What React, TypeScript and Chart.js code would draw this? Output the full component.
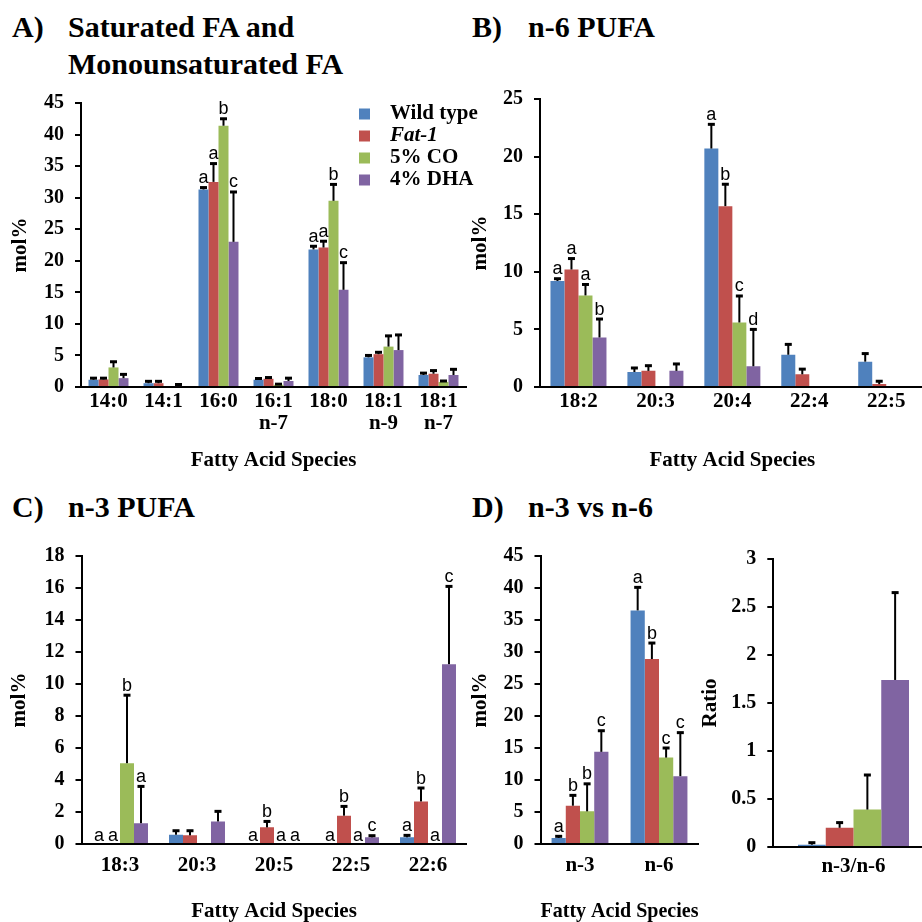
import React, { useEffect, useRef } from 'react';
import { Chart, registerables } from 'chart.js';

Chart.register(...registerables);

const SERIES = ['Wild type', 'Fat-1', '5% CO', '4% DHA'];
const COLORS = ['#4F81BD', '#C0504D', '#9BBB59', '#8064A2'];

// ---------- Panel A: Saturated FA and Monounsaturated FA ----------
const catsA: (string | string[])[] = ['14:0', '14:1', '16:0', ['16:1', 'n-7'], '18:0', ['18:1', 'n-9'], ['18:1', 'n-7']];
const wtA = [1.15, 0.6, 31.3, 1.15, 21.8, 4.7, 1.9];
const fatA = [1.2, 0.6, 32.5, 1.3, 22.1, 5.2, 2.1];
const coA = [3.1, 0, 41.4, 0.35, 29.5, 6.4, 0.8];
const dhaA = [1.4, 0.15, 23.0, 0.95, 15.4, 5.85, 1.9];
const wtAErr = [0.25, 0.3, 0.3, 0.2, 0.5, 0.3, 0.3];
const fatAErr = [0.2, 0.3, 2.9, 0.2, 1.0, 0.3, 0.5];
const coAErr = [0.9, 0, 1.1, 0.1, 2.6, 1.7, 0.15];
const dhaAErr = [0.6, 0.25, 7.9, 0.45, 4.3, 2.4, 0.9];
const wtALet = ['', '', 'a', '', 'a', '', ''];
const fatALet = ['', '', 'a', '', 'a', '', ''];
const coALet = ['', '', 'b', '', 'b', '', ''];
const dhaALet = ['', '', 'c', '', 'c', '', ''];

// ---------- Panel B: n-6 PUFA ----------
const catsB = ['18:2', '20:3', '20:4', '22:4', '22:5'];
const wtB = [9.2, 1.3, 20.7, 2.8, 2.2];
const fatB = [10.2, 1.4, 15.7, 1.1, 0.25];
const coB = [7.95, 0, 5.6, 0, 0];
const dhaB = [4.3, 1.4, 1.8, 0, 0];
const wtBErr = [0.2, 0.35, 2.1, 0.9, 0.7];
const fatBErr = [0.95, 0.45, 1.9, 0.45, 0.25];
const coBErr = [0.95, 0, 2.3, 0, 0];
const dhaBErr = [1.6, 0.6, 3.2, 0, 0];
const wtBLet = ['a', '', 'a', '', ''];
const fatBLet = ['a', '', 'b', '', ''];
const coBLet = ['a', '', 'c', '', ''];
const dhaBLet = ['b', '', 'd', '', ''];

// ---------- Panel C: n-3 PUFA ----------
const catsC = ['18:3', '20:3', '20:5', '22:5', '22:6'];
const wtC = [0, 0.58, 0, 0, 0.42];
const fatC = [0, 0.54, 1.04, 1.77, 2.66];
const coC = [5.05, 0, 0, 0, 0];
const dhaC = [1.3, 1.41, 0, 0.42, 11.24];
const wtCErr = [0, 0.25, 0, 0, 0.12];
const fatCErr = [0, 0.29, 0.37, 0.58, 0.84];
const coCErr = [4.25, 0, 0, 0, 0];
const dhaCErr = [2.3, 0.63, 0, 0.1, 4.86];
const wtCLet = ['a', '', 'a', 'a', 'a'];
const fatCLet = ['a', '', 'b', 'b', 'b'];
const coCLet = ['b', '', 'a', 'a', 'a'];
const dhaCLet = ['a', '', 'a', 'c', 'c'];

// ---------- Panel D: n-3 vs n-6 ----------
const catsD = ['n-3', 'n-6'];
const wtD = [0.94, 36.5];
const fatD = [5.98, 28.9];
const coD = [5.1, 13.5];
const dhaD = [14.4, 10.6];
const wtDErr = [0.26, 3.6];
const fatDErr = [1.62, 2.5];
const coDErr = [4.3, 1.5];
const dhaDErr = [3.3, 6.8];
const wtDLet = ['a', 'a'];
const fatDLet = ['b', 'b'];
const coDLet = ['b', 'c'];
const dhaDLet = ['c', 'c'];

const catsR = ['n-3/n-6'];
const wtR = [0.024];
const fatR = [0.2];
const coR = [0.39];
const dhaR = [1.74];
const wtRErr = [0.021];
const fatRErr = [0.054];
const coRErr = [0.36];
const dhaRErr = [0.91];

const SERIF = '"Liberation Serif", "Times New Roman", serif';
const SANS = '"Liberation Sans", Arial, sans-serif';

function errorPlugin(errors: number[][], letters?: string[][]) {
  return {
    id: 'errorBars',
    afterDatasetsDraw(chart: any) {
      const { ctx } = chart;
      const yScale = chart.scales.y;
      ctx.save();
      chart.data.datasets.forEach((ds: any, i: number) => {
        const meta = chart.getDatasetMeta(i);
        meta.data.forEach((bar: any, j: number) => {
          const v = ds.data[j] as number;
          const e = errors[i][j];
          const x = bar.x;
          const yTop = yScale.getPixelForValue(v);
          let top = yTop;
          if (e > 0) {
            const yE = yScale.getPixelForValue(v + e);
            ctx.strokeStyle = '#000';
            ctx.lineWidth = 2;
            ctx.beginPath();
            ctx.moveTo(x, yTop);
            ctx.lineTo(x, yE);
            ctx.stroke();
            ctx.lineWidth = 3;
            ctx.beginPath();
            ctx.moveTo(x - 3.5, yE);
            ctx.lineTo(x + 3.5, yE);
            ctx.stroke();
            top = yE - 1.5;
          }
          const L = letters ? letters[i][j] : '';
          if (L) {
            ctx.fillStyle = '#000';
            ctx.font = `18px ${SANS}`;
            ctx.textAlign = 'center';
            ctx.textBaseline = 'alphabetic';
            ctx.fillText(L, x, top - 3);
          }
        });
      });
      ctx.restore();
    },
  };
}

const legendPlugin = {
  id: 'seriesLegend',
  afterDraw(chart: any) {
    const { ctx, chartArea } = chart;
    ctx.save();
    SERIES.forEach((name, i) => {
      const y = chartArea.top + 11 + i * 22;
      ctx.fillStyle = COLORS[i];
      ctx.fillRect(chartArea.right - 107, y - 5.5, 11, 11);
      ctx.fillStyle = '#000';
      ctx.font = `${i === 1 ? 'italic ' : ''}bold 21px ${SERIF}`;
      ctx.textBaseline = 'middle';
      ctx.textAlign = 'left';
      ctx.fillText(name, chartArea.right - 76, y);
    });
    ctx.restore();
  },
};

type Spec = {
  x: number; y: number; w: number; h: number;
  area: { l: number; t: number; r: number; b: number };
  labels: any[];
  values: number[][];
  errors: number[][];
  letters?: string[][];
  yMax: number; yStep: number;
  yTitle: string; yTitleX: number;
  xTitle?: string; xTitleY?: number;
  xTickPad: number;
  catPct: number;
  legend?: boolean;
};

function buildConfig(p: Spec): any {
  const lh = 21 * 1.2;
  const H = p.h - p.area.b - 2;
  const plugins: any[] = [errorPlugin(p.errors, p.letters)];
  if (p.legend) plugins.push(legendPlugin);
  return {
    type: 'bar',
    data: {
      labels: p.labels,
      datasets: p.values.map((d, i) => ({
        label: SERIES[i],
        data: d,
        backgroundColor: COLORS[i],
        borderWidth: 0,
        barPercentage: 1,
        categoryPercentage: p.catPct,
      })),
    },
    options: {
      responsive: false,
      animation: false,
      devicePixelRatio: 1,
      layout: { padding: { left: 0, top: p.area.t, right: p.w - p.area.r, bottom: 2 } },
      plugins: { legend: { display: false }, tooltip: { enabled: false } },
      scales: {
        x: {
          grid: { display: false, drawTicks: false },
          border: { display: true, color: '#000', width: 2 },
          ticks: {
            color: '#000',
            font: { family: SERIF, size: 21, weight: 'bold', lineHeight: 1.05 },
            padding: p.xTickPad,
            maxRotation: 0,
            autoSkip: false,
          },
          title: p.xTitle
            ? {
                display: true,
                text: p.xTitle,
                color: '#000',
                font: { family: SERIF, size: 21, weight: 'bold', lineHeight: 1.2 },
                padding: { top: 0, bottom: p.area.b + H - lh / 2 - (p.xTitleY as number) },
              }
            : { display: false },
          afterFit: (s: any) => { s.height = H; },
        },
        y: {
          min: 0,
          max: p.yMax,
          ticks: {
            stepSize: p.yStep,
            color: '#000',
            font: { family: SERIF, size: 20, weight: 'bold' },
            padding: 11,
            callback: (v: any) => String(v),
          },
          grid: { drawOnChartArea: false, drawTicks: true, tickLength: 6, color: '#000', lineWidth: 2 },
          border: { display: true, color: '#000', width: 2 },
          title: {
            display: true,
            text: p.yTitle,
            color: '#000',
            font: { family: SERIF, size: 21, weight: 'bold', lineHeight: 1.2 },
            padding: { top: p.yTitleX - lh / 2, bottom: 0 },
          },
          afterFit: (s: any) => { s.width = p.area.l; },
        },
      },
    },
    plugins,
  };
}

function Panel({ spec }: { spec: Spec }) {
  const ref = useRef<HTMLCanvasElement>(null);
  useEffect(() => {
    const chart = new Chart(ref.current as HTMLCanvasElement, buildConfig(spec));
    return () => chart.destroy();
  }, []);
  return (
    <canvas
      ref={ref}
      width={spec.w}
      height={spec.h}
      style={{ position: 'absolute', left: spec.x, top: spec.y, width: spec.w, height: spec.h }}
    />
  );
}

const specA: Spec = {
  x: 0, y: 80, w: 490, h: 400,
  area: { l: 81, t: 19, r: 466, b: 307 },
  labels: catsA,
  values: [wtA, fatA, coA, dhaA],
  errors: [wtAErr, fatAErr, coAErr, dhaAErr],
  letters: [wtALet, fatALet, coALet, dhaALet],
  yMax: 45, yStep: 5, yTitle: 'mol%', yTitleX: 21,
  xTitle: 'Fatty Acid Species', xTitleY: 381, xTickPad: 4, catPct: 0.727, legend: true,
};
const specB: Spec = {
  x: 460, y: 60, w: 500, h: 420,
  area: { l: 80, t: 39, r: 464.7, b: 327 },
  labels: catsB,
  values: [wtB, fatB, coB, dhaB],
  errors: [wtBErr, fatBErr, coBErr, dhaBErr],
  letters: [wtBLet, fatBLet, coBLet, dhaBLet],
  yMax: 25, yStep: 5, yTitle: 'mol%', yTitleX: 21,
  xTitle: 'Fatty Acid Species', xTitleY: 401, xTickPad: 4, catPct: 0.728,
};
const specC: Spec = {
  x: 0, y: 520, w: 490, h: 402,
  area: { l: 81.5, t: 36, r: 466.5, b: 324 },
  labels: catsC,
  values: [wtC, fatC, coC, dhaC],
  errors: [wtCErr, fatCErr, coCErr, dhaCErr],
  letters: [wtCLet, fatCLet, coCLet, dhaCLet],
  yMax: 18, yStep: 2, yTitle: 'mol%', yTitleX: 20,
  xTitle: 'Fatty Acid Species', xTitleY: 392, xTickPad: 11, catPct: 0.727,
};
const specD: Spec = {
  x: 460, y: 520, w: 270, h: 402,
  area: { l: 80.5, t: 36, r: 238.5, b: 324 },
  labels: catsD,
  values: [wtD, fatD, coD, dhaD],
  errors: [wtDErr, fatDErr, coDErr, dhaDErr],
  letters: [wtDLet, fatDLet, coDLet, dhaDLet],
  yMax: 45, yStep: 5, yTitle: 'mol%', yTitleX: 21,
  xTitle: 'Fatty Acid Species', xTitleY: 392, xTickPad: 11, catPct: 0.72,
};
const specR: Spec = {
  x: 690, y: 520, w: 270, h: 402,
  area: { l: 83.3, t: 39, r: 243.7, b: 327 },
  labels: catsR,
  values: [wtR, fatR, coR, dhaR],
  errors: [wtRErr, fatRErr, coRErr, dhaRErr],
  yMax: 3, yStep: 0.5, yTitle: 'Ratio', yTitleX: 21,
  xTickPad: 9, catPct: 0.692,
};

const titleStyle: React.CSSProperties = {
  position: 'absolute',
  fontFamily: SERIF,
  fontWeight: 'bold',
  fontSize: 30,
  lineHeight: '30px',
  whiteSpace: 'nowrap',
  color: '#000',
};

export default function App() {
  return (
    <div
      style={{
        position: 'absolute', left: 0, top: 0, width: 922, height: 922,
        overflow: 'hidden', background: '#fff',
      }}
    >
      <div style={{ ...titleStyle, left: 12, top: 12 }}>A)</div>
      <div style={{ ...titleStyle, left: 68, top: 12 }}>Saturated FA and</div>
      <div style={{ ...titleStyle, left: 68, top: 49 }}>Monounsaturated FA</div>
      <div style={{ ...titleStyle, left: 472, top: 12 }}>B)</div>
      <div style={{ ...titleStyle, left: 528, top: 12 }}>n-6 PUFA</div>
      <div style={{ ...titleStyle, left: 12, top: 492 }}>C)</div>
      <div style={{ ...titleStyle, left: 68, top: 492 }}>n-3 PUFA</div>
      <div style={{ ...titleStyle, left: 472, top: 492 }}>D)</div>
      <div style={{ ...titleStyle, left: 528, top: 492 }}>n-3 vs n-6</div>
      <Panel spec={specA} />
      <Panel spec={specB} />
      <Panel spec={specC} />
      <Panel spec={specD} />
      <Panel spec={specR} />
    </div>
  );
}
